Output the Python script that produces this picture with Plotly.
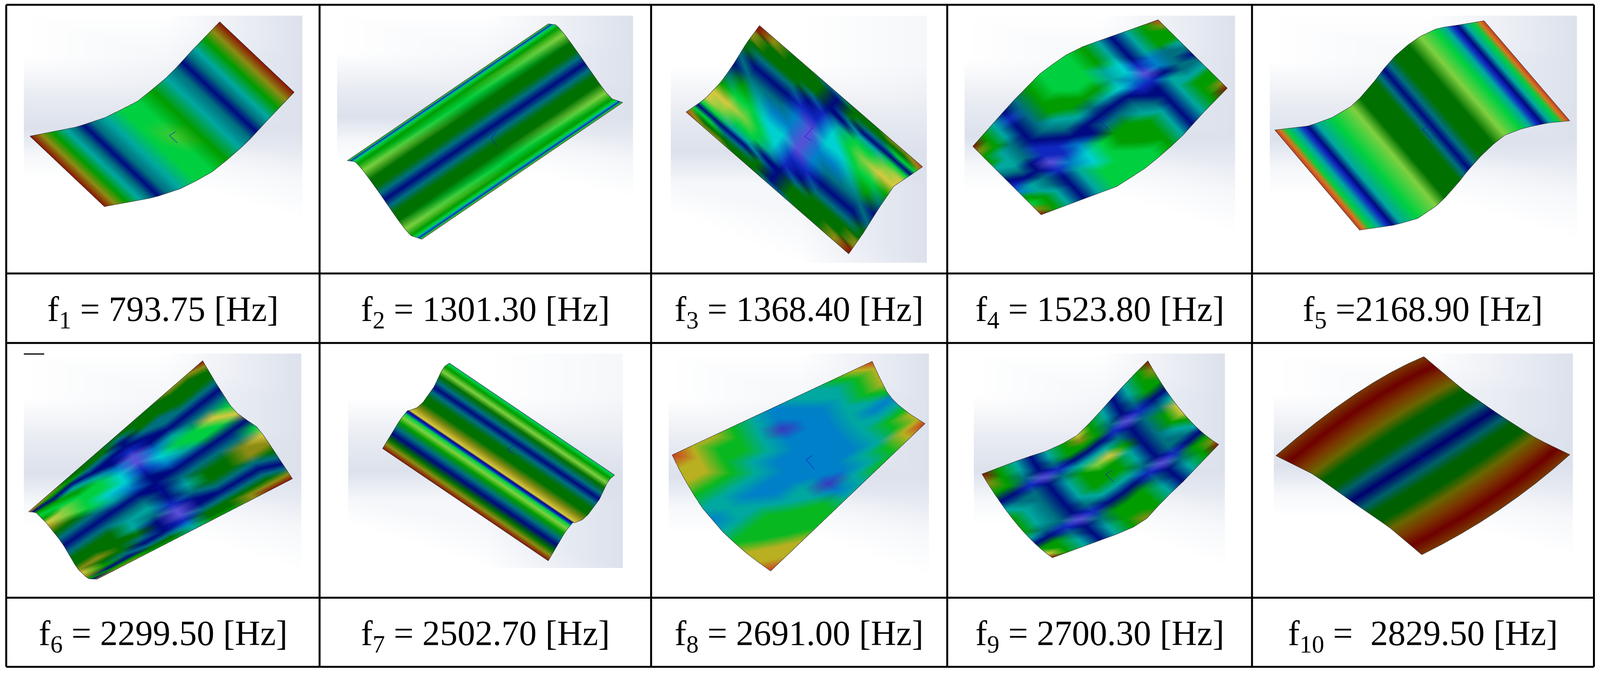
import numpy as np
import plotly.graph_objects as go

FIG_W = 1568.0
FIG_H = 659.75

# visible page window in the drawing's coordinates
X_RANGE = [2.47, 1577.9]
Y_RANGE = [3.2, 664.4]
SCENE_SCALE_X = 1.987
SCENE_SCALE_Y = 1.997

# table grid
col_lines = [5.5, 312.7, 637.7, 928.0, 1226.8, 1562.0]
row_lines = [4.8, 267.6, 335.6, 584.8, 652.4]
labels_top = ["f<sub>1</sub> = 793.75 [Hz]", "f<sub>2</sub> = 1301.30 [Hz]", "f<sub>3</sub> = 1368.40 [Hz]",
              "f<sub>4</sub> = 1523.80 [Hz]", "f<sub>5</sub> =2168.90 [Hz]"]
labels_bottom = ["f<sub>6</sub> = 2299.50 [Hz]", "f<sub>7</sub> = 2502.70 [Hz]", "f<sub>8</sub> = 2691.00 [Hz]",
                 "f<sub>9</sub> = 2700.30 [Hz]", "f<sub>10</sub> =\u00a0\u00a02829.50 [Hz]"]

# colours of the mode shapes, one letter per grid node in the tables below
palette = {
    "r": "#8a1404", "R": "#c83c20", "o": "#d07a20", "O": "#8c8c14", "Y": "#d8c840", "E": "#b8b020",
    "L": "#80d040", "l": "#40c830", "g": "#00d040", "j": "#08b820", "G": "#009c00", "D": "#007000",
    "T": "#00a8a0", "t": "#006f80", "N": "#000a80", "B": "#1028c0", "A": "#0080c8", "C": "#00d0d0",
    "V": "#5a50d8", "v": "#3838c0", "x": "#6e0000", "p": "#7a3800", "y": "#6a6600", "d": "#006000",
    "e": "#00606a", "n": "#00006e",
    "W": "#ffffff", "w": "#f5f7fa", "h": "#e8ebf2", "H": "#dce1ec",
}

# backdrop shading
bg_x = [0, 0.5, 1]
bg_y = [0, 0.2, 0.4, 0.55, 0.68, 0.8, 1]
bg_plain = ["WWH", "WwH", "hhH", "HHH", "wwh", "WWw", "WWW"]
bg_tall = ["WWw", "WWw", "hhh", "HHH", "wwH", "WwH", "WWH"]
bg_rects = [(23, 296, 15, 215), (330, 620, 15, 195), (657, 908, 15, 257), (945, 1210, 15, 230), (1244, 1545, 15, 235),
            (23, 295, 346, 560), (341, 610, 346, 556), (655, 910, 346, 565), (954, 1200, 346, 555), (1248, 1541, 346, 546)]
bg_tables = [bg_plain, bg_plain, bg_tall, bg_plain, bg_plain, bg_plain, bg_tall, bg_plain, bg_plain, bg_plain]

# mode 1
mode1_edges = [
    [(29, 133), (75, 124), (105, 114), (136, 98), (166, 73), (187, 50), (215, 21)],
    [(102, 202), (151, 193), (181, 183), (211, 166), (241, 140), (265, 114), (288, 90)],
]
mode1_a = [0, .05, .1, .16, .2, .24, .28, .34, .42, .5, .58, .66, .72, .76, .8, .84, .9, .95, 1]
mode1_b = [0, .25, .5, .75, 1]
mode1_colors = ["rOGTtNtTggGTtNtTGOr", "rOGTtNtTggGTtNtTGOr", "rOGTtNtTglGTtNtTGOr", "rOGTtNtTggGTtNtTGOr", "rOGTtNtTggGTtNtTGOr"]

# mode 2
mode2_edges = [
    [(340, 157), (348, 158), (357, 168.5), (371, 188), (389, 214), (401, 230), (413, 234)],
    [(537, 23), (545, 24), (554, 34.5), (568, 54), (586, 80), (598, 96), (610, 100)],
]
mode2_a = [0, .012, .03, .045, .065, .1, .18, .28, .36, .43, .5, .57, .64, .72, .82, .9, .935, .955, .97, .988, 1]
mode2_b = [0, .5, 1]
mode2_colors = ["OgBTgGLDDtNtDDLGgTBgO", "ogBTgGgDDtNtDDgGgTBgo", "OgBTgGLDDtNtDDLGgTBgO"]

# mode 3
mode3_edges = [
    [(744, 24.7), (731.4, 41.6), (719.3, 61.3), (707.3, 78.8), (690.7, 96.3), (683.2, 101.7), (672, 109.4)],
    [(903.8, 163), (891.1, 171.8), (876, 181.6), (861, 203.5), (845.9, 227.6), (831.4, 248.3)],
]
mode3_a = [0, .04, .08, .12, .16, .22, .3, .4, .5, .6, .7, .78, .84, .88, .92, .96, 1]
mode3_b = [0, .1, .2, .3, .4, .5, .6, .7, .8, .9, 1]
mode3_colors = [
    "rrOODDtNtGYYgNgOR",
    "OODDDtNtGgYLgNgDO",
    "DDDDDtNtTgLgTNtDO",
    "DDDDDtNtACggTNtDD",
    "tDDDtNBAACCTNtDDD",
    "tNNNNBBVVVBBNNNNt",
    "DDDtNTCCAABNtDDDt",
    "DDtNTggCAtNtDDDDD",
    "ODtNTgLgTtNtDDDDD",
    "ODgNgLYgGtNtDDDOO",
    "ROgNgYYGtNtDDOOrr",
]

# mode 4
mode4_edges = [
    [(953, 143), (990.6, 100.6), (1020.7, 70), (1050.9, 49), (1081, 38), (1095.4, 33), (1134.6, 19)],
    [(1020, 210), (1095, 182), (1125.5, 162), (1155.7, 135.7), (1179.8, 109), (1202.4, 86)],
]
mode4_a = [0, .07, .13, .2, .27, .35, .43, .5, .57, .65, .72, .78, .85, .92, 1]
mode4_b = [0, .08, .16, .25, .33, .42, .5, .58, .67, .75, .84, .92, 1]
mode4_colors = [
    "rGTNtGgggGTNTGR",
    "OGTBtGgggGTNTGO",
    "GGTNtGgggGTNTGG",
    "GTtNtGGggTCNTGG",
    "TTtNtTGGGTCBAtT",
    "tTtBNtTtTCAVAtt",
    "NtNBBNNNNNBBNtN",
    "BNNVBANtttNNTtt",
    "ATtBACgGGTtNTTT",
    "GTtNTCgGGGTNTGG",
    "gGTNTgggGGTNTGG",
    "OGTNTggggGTNTGO",
    "rGTNTggggGTNTGr",
]

# mode 5
mode5_edges = [
    [(1249, 127), (1282, 123), (1303, 116), (1325, 103), (1340, 88), (1355, 68), (1370, 51), (1388, 37), (1409, 27), (1430, 24), (1454, 20)],
    [(1332, 225), (1367, 220), (1391, 213), (1409, 200), (1424, 185), (1437, 168), (1454, 149), (1472, 133), (1493, 125), (1517, 120), (1538, 118)],
]
mode5_a = [0, .02, .045, .08, .115, .135, .17, .24, .33, .38, .47, .5, .53, .56, .6, .67, .73, .8, .84, .87, .89, .92, .955, .98, 1]
mode5_b = [0, 1]
mode5_colors = ["RogTBNTgLDDtNtDDLgTBNTgoR", "RogTBNTgLDDtNtDDLgTBNTgoR"]

# mode 6
mode6_edges = [
    [(27.7, 501), (34.7, 501.4), (45.2, 512), (60.3, 531), (75.4, 556.5), (85.9, 566.6), (94.9, 567)],
    [(198.3, 353), (211, 374.4), (226, 397.7), (238, 410.4), (247, 412.5), (259, 427.3), (286.3, 468.6)],
]
mode6_a = [0, .04, .08, .12, .17, .22, .28, .35, .42, .5, .58, .65, .72, .78, .83, .88, .92, .96, 1]
mode6_b = [0, .1, .2, .3, .4, .5, .6, .7, .8, .9, 1]
mode6_colors = [
    "oNGgGYODtNtDDOYOGNo",
    "OGNGgLLDtNtDDODGNGO",
    "DGNTGgggtNtDDDDtNGO",
    "DDtNTggCTNtTTDtNtDG",
    "DDtNNACCANtTtNNNtDG",
    "DtNNBVVBNNNNBVVBATT",
    "DDDtNNACANtTtNNtDDG",
    "DDDttNTgTNtDDtNtDDG",
    "ODDDtNtggNtDDtNtDOO",
    "ODDDtNtYgNtOOtNtDOr",
    "rODDtNtgYNgYODtNtOr",
]

# mode 7
mode7_edges = [
    [(440, 355.3), (434, 359.6), (425, 378.6), (413, 395.5), (405, 401.5), (399.4, 401.5), (392, 410.4), (374.6, 439)],
    [(602, 465), (596, 470), (587, 489), (575, 505), (567, 511.5), (561, 511.5), (554, 520), (537, 549)],
]
mode7_a = [0, .012, .05, .1, .15, .21, .26, .31, .37, .43, .5, .57, .595, .61, .63, .67, .72, .78, .84, .9, .95, 1]
mode7_b = [0, 1]
mode7_colors = ["TgGLDtNtDDOYNBgLGtNDOr", "TgGLDtNtDDOYNBgLGtNDOr"]

# mode 8
mode8_edges = [
    [(658.4, 445.3), (668, 465), (686, 495), (710, 523), (734, 544), (754.9, 559)],
    [(854.4, 353.6), (861, 368), (868.5, 383), (876, 393), (891, 405), (906.2, 414.6)],
]
mode8_a = [0, .1, .2, .3, .4, .5, .6, .7, .8, .9, 1]
mode8_b = [0, .1, .2, .3, .4, .5, .6, .7, .8, .9, 1]
mode8_colors = [
    "REEjTATjEER",
    "EEEjTTTjjEE",
    "EjjjTATjjjE",
    "jjjTTAATjjj",
    "TTTTAAATTjj",
    "AAvAAAAAvAT",
    "TAAAAAAAATT",
    "TTAAAAAATTj",
    "jTTTTTTTTjj",
    "EjjjTATjjEE",
    "REEEjATjEER",
]

# mode 9
mode9_edges = [
    [(962, 464), (1003, 448.5), (1033, 439), (1057, 425), (1075, 406), (1090, 389), (1107.5, 370), (1124.6, 353)],
    [(997, 514), (1040, 487), (1082, 460), (1122, 432), (1159, 404)],
    [(1031, 546), (1095, 522.6), (1119.5, 512), (1140.6, 488.7), (1158.7, 471.8), (1176.8, 452.7), (1194, 435)],
]
mode9_a = [0, .08, .17, .25, .33, .42, .5, .58, .67, .75, .83, .92, 1]
mode9_b = [0, .08, .17, .25, .33, .42, .5, .58, .67, .75, .83, .92, 1]
mode9_colors = [
    "rGTNTGYGTNTGr",
    "OGTNTGOGTNTGO",
    "GGtNtGGGtNtGG",
    "NNBVBNNNBVBNN",
    "TttNtTTTtNttT",
    "GTtNTGLYGNtGY",
    "GTtNTGGGTNtGY",
    "GTtNTGGGTNtTG",
    "TttNtTTTtNttT",
    "NNBVBNNNBVBNN",
    "GGtNtGGGtNtGG",
    "YGTNTGGGTNTGO",
    "rGTNTGOGTNTGr",
]

# mode 10
mode10_edges = [
    [(1250, 446), (1288, 465), (1324.5, 491), (1361, 516), (1393, 543)],
    [(1327.5, 386), (1361, 412.5), (1395, 443), (1433, 472), (1469, 499)],
    [(1395, 349), (1433, 381), (1469, 406), (1505, 429), (1538, 445)],
]
mode10_a = [0, .08, .16, .23, .3, .37, .43, .5, .57, .63, .7, .77, .84, .92, 1]
mode10_b = [0, .125, .25, .375, .5, .625, .75, .875, 1]
mode10_colors = ["pxpyddeneddypxp"] * 9

modes = [
    (mode1_edges, mode1_a, mode1_b, mode1_colors),
    (mode2_edges, mode2_a, mode2_b, mode2_colors),
    (mode3_edges, mode3_a, mode3_b, mode3_colors),
    (mode4_edges, mode4_a, mode4_b, mode4_colors),
    (mode5_edges, mode5_a, mode5_b, mode5_colors),
    (mode6_edges, mode6_a, mode6_b, mode6_colors),
    (mode7_edges, mode7_a, mode7_b, mode7_colors),
    (mode8_edges, mode8_a, mode8_b, mode8_colors),
    (mode9_edges, mode9_a, mode9_b, mode9_colors),
    (mode10_edges, mode10_a, mode10_b, mode10_colors),
]

# little blue axis marks: end, origin, end
triads = [
    [(171.8, 128.7), (165.8, 132.4), (173.3, 139.6)],
    [(486, 129), (481, 135), (487, 143)],
    [(796, 124.7), (788.6, 133.5), (794.7, 137.4)],
    [(1085.5, 113.8), (1078, 118), (1087, 127)],
    [(1401, 121.9), (1393.8, 126.5), (1402.8, 135.7)],
    [(159.7, 471.8), (153.7, 476), (161.2, 485)],
    [(503, 436), (497, 440), (503, 445)],
    [(796, 445.7), (789.5, 450), (797.7, 459)],
    [(1090, 460), (1083, 464.3), (1091, 471.8)],
    [(1389.3, 445.3), (1395.3, 450), (1401.3, 447)],
]

# stray dash above the sixth picture
dash_x = [23, 43]
dash_y = [346.4, 346.4]


def along_edge(edge, a):
    pts = np.array(edge, dtype=float)
    seg = np.hypot(*np.diff(pts, axis=0).T)
    s = np.concatenate([[0], np.cumsum(seg)]) / seg.sum()
    return np.column_stack([np.interp(a, s, pts[:, 0]), np.interp(a, s, pts[:, 1])])


def blend(edges, a, b):
    # rulings between the read-off edges, one row of nodes per b
    sampled = [along_edge(e, a) for e in edges]
    rows = []
    for t in b:
        if len(sampled) == 2:
            rows.append(sampled[0] * (1 - t) + sampled[1] * t)
        else:
            rows.append(sampled[0] * (1 - t) * (1 - 2 * t) + sampled[1] * 4 * t * (1 - t) + sampled[2] * t * (2 * t - 1))
    return np.array(rows)


def mesh_trace(grid, table, level):
    m, n = grid.shape[:2]
    x = grid[:, :, 0].ravel()
    y = FIG_H - grid[:, :, 1].ravel()
    colors = [palette[c] for row in table for c in row]
    i, j, k = [], [], []
    for r in range(m - 1):
        for c in range(n - 1):
            p = r * n + c
            i += [p, p]
            j += [p + 1, p + n + 1]
            k += [p + n + 1, p + n]
    return go.Mesh3d(x=x, y=y, z=[level] * len(x), i=i, j=j, k=k, vertexcolor=colors,
                     lighting=dict(ambient=1, diffuse=0, specular=0, roughness=1, fresnel=0),
                     hoverinfo="skip", showscale=False)


fig = go.Figure()

# table lines
line_x, line_y = [], []
for x in col_lines:
    line_x += [x, x, None]
    line_y += [row_lines[0], row_lines[-1], None]
for y in row_lines:
    line_x += [col_lines[0], col_lines[-1], None]
    line_y += [y, y, None]
fig.add_trace(go.Scatter(x=line_x, y=line_y, mode="lines", line=dict(color="black", width=5),
                         hoverinfo="skip", showlegend=False))

for rect, table in zip(bg_rects, bg_tables):
    x0, x1, y0, y1 = rect
    grid = np.array([[(x0 + (x1 - x0) * u, y0 + (y1 - y0) * v) for u in bg_x] for v in bg_y])
    fig.add_trace(mesh_trace(grid, table, -1))

for (edges, a, b, table), triad in zip(modes, triads):
    grid = blend(edges, a, b)
    fig.add_trace(mesh_trace(grid, table, 0))
    outline = np.concatenate([grid[0], grid[:, -1], grid[-1][::-1], grid[:, 0][::-1]])
    fig.add_trace(go.Scatter3d(x=outline[:, 0], y=FIG_H - outline[:, 1], z=[0.5] * len(outline), mode="lines",
                               line=dict(color="#303030", width=2), hoverinfo="skip", showlegend=False))
    tx, ty = zip(*triad)
    fig.add_trace(go.Scatter3d(x=tx, y=[FIG_H - v for v in ty], z=[1] * 3, mode="lines",
                               line=dict(color="#1010e0", width=2), hoverinfo="skip", showlegend=False))

fig.add_trace(go.Scatter3d(x=dash_x, y=[FIG_H - v for v in dash_y], z=[1, 1], mode="lines",
                           line=dict(color="black", width=6), hoverinfo="skip", showlegend=False))

# frequency labels
centers = [(col_lines[i] + col_lines[i + 1]) / 2 for i in range(5)]
for cx, text in zip(centers, labels_top):
    fig.add_annotation(x=cx, y=305, text=text, showarrow=False, font=dict(family="Liberation Serif", size=90, color="black"))
for cx, text in zip(centers, labels_bottom):
    fig.add_annotation(x=cx, y=622, text=text, showarrow=False, font=dict(family="Liberation Serif", size=90, color="black"))

hidden = dict(visible=False, showspikes=False)
span_x = X_RANGE[1] - X_RANGE[0]
span_y = Y_RANGE[1] - Y_RANGE[0]
fig.update_layout(
    width=4114, height=1731, margin=dict(l=0, r=0, t=0, b=0), paper_bgcolor="white", plot_bgcolor="white",
    showlegend=False,
    xaxis=dict(range=X_RANGE, visible=False, fixedrange=True),
    yaxis=dict(range=[Y_RANGE[1], Y_RANGE[0]], visible=False, fixedrange=True),
    scene=dict(
        domain=dict(x=[0, 1], y=[0, 1]), bgcolor="rgba(0,0,0,0)",
        xaxis=dict(range=X_RANGE, **hidden),
        yaxis=dict(range=[FIG_H - Y_RANGE[1], FIG_H - Y_RANGE[0]], **hidden),
        zaxis=dict(range=[-2, 2], **hidden),
        aspectmode="manual",
        aspectratio=dict(x=SCENE_SCALE_X * span_x / span_y, y=SCENE_SCALE_Y, z=0.4),
        camera=dict(eye=dict(x=0, y=0, z=1), up=dict(x=0, y=1, z=0), center=dict(x=0, y=0, z=0),
                    projection=dict(type="orthographic")),
    ),
)

fig.write_html("out.html")
